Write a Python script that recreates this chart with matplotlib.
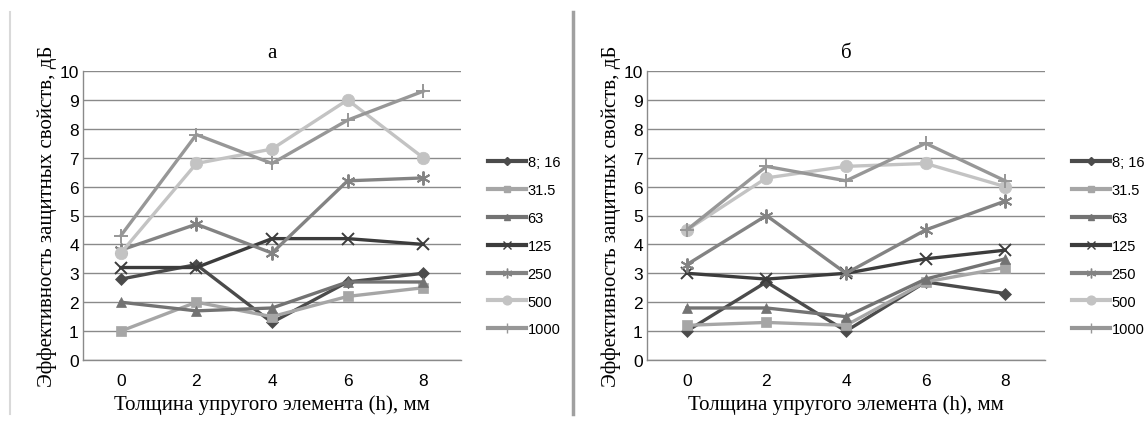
import matplotlib
matplotlib.use("Agg")
import matplotlib.pyplot as plt
from matplotlib.lines import Line2D

# Excel-like grayscale line charts: a (left) and б (right)
thickness = ["0", "2", "4", "6", "8"]
series_names = ["8; 16", "31.5", "63", "125", "250", "500", "1000"]

a_8_16 = [2.8, 3.3, 1.3, 2.7, 3.0]
a_31_5 = [1.0, 2.0, 1.5, 2.2, 2.5]
a_63 = [2.0, 1.7, 1.8, 2.7, 2.7]
a_125 = [3.2, 3.2, 4.2, 4.2, 4.0]
a_250 = [3.8, 4.7, 3.7, 6.2, 6.3]
a_500 = [3.7, 6.8, 7.3, 9.0, 7.0]
a_1000 = [4.3, 7.8, 6.8, 8.3, 9.3]

b_8_16 = [1.0, 2.7, 1.0, 2.7, 2.3]
b_31_5 = [1.2, 1.3, 1.2, 2.7, 3.2]
b_63 = [1.8, 1.8, 1.5, 2.8, 3.5]
b_125 = [3.0, 2.8, 3.0, 3.5, 3.8]
b_250 = [3.3, 5.0, 3.0, 4.5, 5.5]
b_500 = [4.5, 6.3, 6.7, 6.8, 6.0]
b_1000 = [4.5, 6.7, 6.2, 7.5, 6.2]

colors = ["#4b4b4b", "#a6a6a6", "#737373", "#3c3c3c", "#838383", "#c3c3c3", "#979797"]
markers = ["D", "s", "^", "x", (6, 2, 0), "o", "+"]
msizes = [6, 7, 7, 9, 10, 9, 10]

W, H = 1147, 427
fig = plt.figure(figsize=(W / 100, H / 100), dpi=100)

serif = "Liberation Serif"
sans = "Liberation Sans"


def px_axes(left, top, right, bottom):
    return fig.add_axes([left / W, 1 - bottom / H, (right - left) / W, (bottom - top) / H])


def draw_panel(ax, data, title, width_px):
    xs = range(len(thickness))
    for vals, name, c, m, ms in zip(data, series_names, colors, markers, msizes):
        ax.plot(xs, vals, color=c, linewidth=2.4, marker=m, markersize=ms,
                markeredgewidth=1.4 if m in ("x", "+") or isinstance(m, tuple) else 0.5,
                markeredgecolor=c, label=name)
    ax.set_xlim(-0.5, len(thickness) - 0.5)
    ax.set_ylim(0, 10)
    ax.set_yticks(range(0, 11))
    ax.set_xticks(list(xs))
    ax.set_xticklabels(thickness)
    ax.yaxis.grid(True, color="#8a8a8a", linewidth=1.0)
    ax.set_axisbelow(True)
    for s in ("top", "right"):
        ax.spines[s].set_visible(False)
    for s in ("left", "bottom"):
        ax.spines[s].set_color("#8a8a8a")
        ax.spines[s].set_linewidth(1.0)
    ax.tick_params(length=0, labelsize=12.5)
    ax.tick_params(axis="x", pad=9)
    ax.tick_params(axis="y", pad=3)
    for lab in ax.get_xticklabels() + ax.get_yticklabels():
        lab.set_fontfamily(sans)
    ax.set_title(title, fontfamily=serif, fontsize=15, pad=10)
    ax.set_xlabel("Толщина упругого элемента (h), мм", fontfamily=serif, fontsize=15, labelpad=5)
    ax.set_ylabel("Эффективность защитных свойств, дБ", fontfamily=serif, fontsize=15, labelpad=2)

    handles = [Line2D([], [], color=c, linewidth=3, marker=m, markersize=ms * 0.7,
                      markeredgewidth=1.0, markeredgecolor=c)
               for c, m, ms in zip(colors, markers, msizes)]
    ax.legend(handles, series_names, loc="center left",
              bbox_to_anchor=(1.0 + 14 / width_px, 0.395),
              frameon=False, handlelength=2.6, handletextpad=0.1,
              labelspacing=0.95, prop={"family": sans, "size": 10.5})


ax1 = px_axes(83, 72, 461, 361)
draw_panel(ax1, [a_8_16, a_31_5, a_63, a_125, a_250, a_500, a_1000], "а", 378)

ax2 = px_axes(647, 72, 1045, 361)
draw_panel(ax2, [b_8_16, b_31_5, b_63, b_125, b_250, b_500, b_1000], "б", 398)

# panel frame lines
fig.add_artist(Line2D([10 / W, 10 / W], [1 - 13 / H, 1 - 415 / H], color="#d9d9d9", linewidth=1.5))
fig.add_artist(Line2D([573 / W, 573 / W], [1 - 13 / H, 1 - 415 / H], color="#a0a0a0", linewidth=2.5))

fig.savefig("out.png", dpi=100)
